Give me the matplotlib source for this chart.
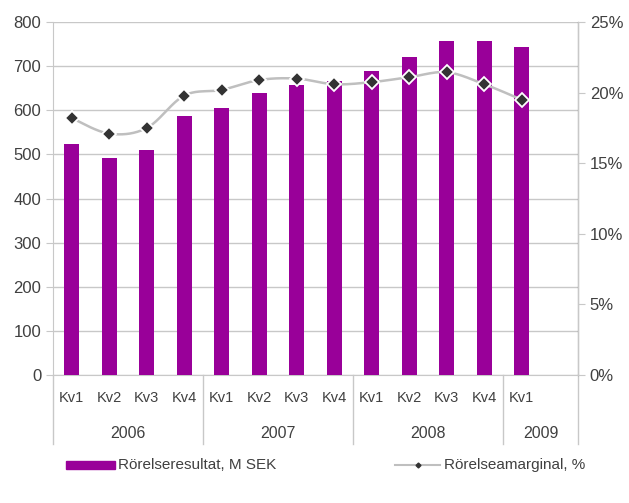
import numpy as np
import matplotlib.pyplot as plt

# data
quarters = ["Kv1", "Kv2", "Kv3", "Kv4", "Kv1", "Kv2", "Kv3", "Kv4",
            "Kv1", "Kv2", "Kv3", "Kv4", "Kv1", ""]
years = ["2006", "2007", "2008", "2009"]
year_sizes = [4, 4, 4, 2]
resultat = [523, 492, 510, 587, 605, 640, 658, 667, 689, 721, 757, 757, 744]
marginal = [18.2, 17.1, 17.5, 19.8, 20.2, 20.9, 21.0, 20.6, 20.75, 21.1, 21.45, 20.6, 19.5]

purple = "#990099"
txt = "#404040"
grid = "#c8c8c8"

plt.rcParams["font.family"] = ["Liberation Sans", "DejaVu Sans"]

fig = plt.figure(figsize=(6.29, 5.03), dpi=100)
ax = fig.add_axes([0.0843, 0.2545, 0.8347, 0.7015])
ax2 = ax.twinx()

n = len(quarters)
x = np.arange(len(resultat))
ax.bar(x, resultat, width=0.4, color=purple, zorder=3)
ax.set_xlim(-0.5, n - 0.5)
ax.set_ylim(0, 800)
ax.set_yticks(range(0, 801, 100))
ax.yaxis.grid(True, color=grid, lw=1, zorder=0)
ax.set_axisbelow(True)
ax.tick_params(axis="y", colors=grid, labelcolor=txt, labelsize=12, length=5)
ax.set_xticks([])
for s in ["top"]:
    ax.spines[s].set_visible(False)
    ax2.spines[s].set_visible(False)
ax.spines["left"].set_color(grid)
ax.spines["bottom"].set_color(grid)
ax2.spines["right"].set_color(grid)
ax2.spines["left"].set_visible(False)
ax2.spines["bottom"].set_visible(False)

# smoothed line (Catmull-Rom through the points, like Excel)
def smooth(xs, ys, steps=20):
    p = np.column_stack([xs, ys]).astype(float)
    p = np.vstack([p[0], p, p[-1]])
    out = []
    for i in range(1, len(p) - 2):
        p0, p1, p2, p3 = p[i - 1], p[i], p[i + 1], p[i + 2]
        for t in np.linspace(0, 1, steps, endpoint=False):
            out.append(0.5 * ((2 * p1) + (-p0 + p2) * t
                              + (2 * p0 - 5 * p1 + 4 * p2 - p3) * t ** 2
                              + (-p0 + 3 * p1 - 3 * p2 + p3) * t ** 3))
    out.append(p[-2])
    out = np.array(out)
    return out[:, 0], out[:, 1]

sx, sy = smooth(x, marginal)
ax2.plot(sx, sy, color="#bfbfbf", lw=1.8, zorder=4)
ax2.plot(x, marginal, ls="none", marker="D", ms=7, mfc="#333333", mec="white",
         mew=1.3, zorder=5)
ax2.set_ylim(0, 25)
ax2.set_yticks(range(0, 26, 5))
ax2.set_yticklabels([f"{v}%" for v in range(0, 26, 5)])
ax2.tick_params(axis="y", colors=grid, labelcolor=txt, labelsize=12, length=5)

# two-level category axis
for i, q in enumerate(quarters):
    ax.text(i, -0.065, q, transform=ax.get_xaxis_transform(), ha="center",
            va="center", fontsize=10.5, color=txt)
pos = -0.5
bounds = [pos]
for y, sz in zip(years, year_sizes):
    ax.text(pos + sz / 2, -0.165, y, transform=ax.get_xaxis_transform(),
            ha="center", va="center", fontsize=11.5, color=txt)
    pos += sz
    bounds.append(pos)
for b in bounds:
    ax.plot([b, b], [0, -0.195], transform=ax.get_xaxis_transform(),
            color=grid, lw=1, clip_on=False)

# legend
fig.patches.append(plt.Rectangle((0.105, 0.067), 0.078, 0.016, color=purple,
                                 transform=fig.transFigure))
fig.text(0.188, 0.076, "Rörelseresultat, M SEK", fontsize=11, color=txt,
         va="center")
fig.add_artist(plt.Line2D([0.628, 0.70], [0.076, 0.076], color="#bfbfbf",
                          lw=1.5, transform=fig.transFigure))
fig.add_artist(plt.Line2D([0.664], [0.076], marker="D", ms=2.5, color="#333333",
                          transform=fig.transFigure))
fig.text(0.706, 0.076, "Rörelseamarginal, %", fontsize=11, color=txt,
         va="center")

fig.savefig("out.png", dpi=100)
